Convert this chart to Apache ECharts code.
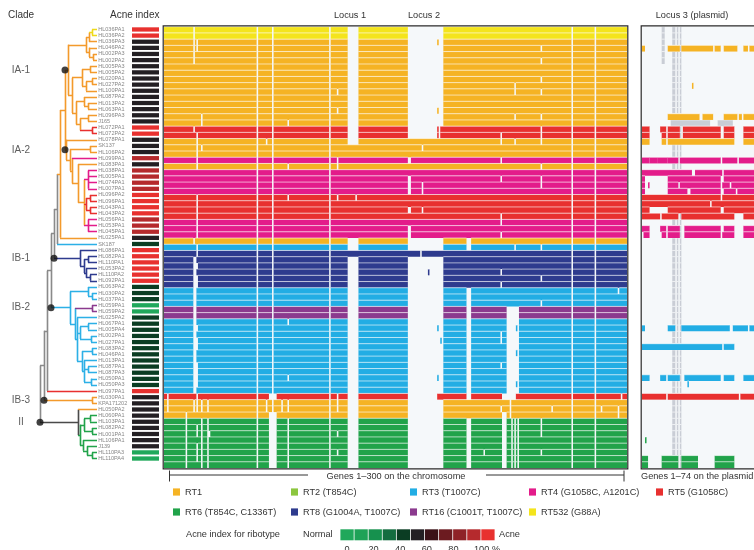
<!DOCTYPE html>
<html>
<head>
<meta charset="utf-8">
<title>Propionibacterium acnes strains: clades, acne index and gene content</title>
<script src="https://cdn.jsdelivr.net/npm/echarts@6.0.0/dist/echarts.min.js"></script>
<style>
  html, body { margin: 0; padding: 0; background: #ffffff; }
  #chart { width: 754px; height: 550px; }
</style>
</head>
<body>
<div id="chart"></div>
<script>
// ---------- strains, top to bottom ----------
const strains = [
  'HL036PA1','HL036PA2','HL036PA3','HL046PA2','HL002PA3','HL002PA2','HL005PA3','HL005PA2',
  'HL020PA1','HL027PA2','HL100PA1','HL087PA2','HL013PA2','HL063PA1','HL096PA3','J165',
  'HL072PA1','HL072PA2','HL078PA1','SK137','HL106PA2','HL099PA1','HL083PA1','HL038PA1',
  'HL005PA1','HL074PA1','HL007PA1','HL096PA2','HL096PA1','HL043PA1','HL043PA2','HL056PA1',
  'HL053PA1','HL045PA1','HL025PA1','SK187','HL086PA1','HL082PA1','HL110PA1','HL053PA2',
  'HL110PA2','HL092PA1','HL063PA2','HL030PA2','HL037PA1','HL059PA1','HL059PA2','HL025PA2',
  'HL067PA1','HL005PA4','HL002PA1','HL027PA1','HL083PA2','HL046PA1','HL013PA1','HL087PA1',
  'HL087PA3','HL050PA1','HL050PA3','HL097PA1','HL030PA1','KPA171202','HL050PA2','HL060PA1',
  'HL103PA1','HL082PA2','HL001PA1','HL106PA1','J139','HL110PA3','HL110PA4'
];

// ribotype of each strain (same order)
const ribotypeOfStrain = [
  'RT532','RT532','RT1','RT1','RT1','RT1','RT1','RT1',
  'RT1','RT1','RT1','RT1','RT1','RT1','RT1','RT1',
  'RT5','RT5','RT1','RT1','RT1','RT4','RT1','RT4',
  'RT4','RT4','RT4','RT5','RT5','RT5','RT5','RT4',
  'RT4','RT4','RT1','RT3','RT8','RT8','RT8','RT8',
  'RT8','RT8','RT3','RT3','RT3','RT16','RT16','RT3',
  'RT3','RT3','RT3','RT3','RT3','RT3','RT3','RT3',
  'RT3','RT3','RT3','RT5','RT1','RT1','RT1','RT6',
  'RT6','RT6','RT6','RT6','RT6','RT6','RT6'
];

// acne index (%) of each strain's ribotype
const acneIndex = [
  100,100,50,50,50,50,50,50,
  50,50,50,50,50,50,50,50,
  100,100,50,50,50,90,50,90,
  90,90,90,100,100,100,100,90,
  90,90,50,40,100,100,100,100,
  100,100,40,40,40,0,0,40,
  40,40,40,40,40,40,40,40,
  40,40,40,100,50,50,50,50,
  50,50,50,50,50,0,0
];

// ---------- ribotype legend ----------
const ribotypes = ['RT1','RT2','RT3','RT4','RT5','RT6','RT8','RT16','RT532'];
const ribotypeLabels = ['RT1','RT2 (T854C)','RT3 (T1007C)','RT4 (G1058C, A1201C)','RT5 (G1058C)',
  'RT6 (T854C, C1336T)','RT8 (G1004A, T1007C)','RT16 (C1001T, T1007C)','RT532 (G88A)'];
const ribotypeColors = ['#f5b324','#8cc63f','#22ade4','#e31c8a','#e8302f','#21a34a','#2e3b8e','#8b3a8e','#f4e41c'];
const treeBranchColors = ['#f39a2c','#8cc63f','#2cb0e6','#e31c8a','#e8302f','#21a34a','#2e3b8e','#8b3a8e','#eed91a'];

// ---------- acne index colour scale ----------
const acneScaleValues = [0,10,20,30,40,50,60,70,80,90,100];
const acneScaleColors = ['#20a85b','#1ea257','#16914e','#146d40','#0b3d23','#231f23',
  '#3b1218','#6c1b20','#8e2227','#b52a2d','#e8312f'];
const acneTickLabels = ['0','20','40','60','80','100 %'];

// ---------- gene content ----------
const CHROMOSOME_GENES = 300;
const PLASMID_GENES = 74;

// genes missing from the chromosome: [first strain, last strain, first gene, last gene]
const chromosomeGaps = [
  [1,71,61,61],[1,71,71,71],[1,71,108,108],[1,71,265,265],[1,71,280,280],
  // locus 1
  [1,19,120,126],[35,36,120,126],[38,71,120,126],
  // locus 2
  [1,2,159,181],[3,3,159,177],[3,3,179,181],[4,13,159,181],[14,14,159,177],[14,14,179,181],
  [15,16,159,181],[17,18,159,177],[17,18,179,179],[35,36,159,181],
  [38,39,159,181],[40,40,159,171],[40,40,173,181],[41,48,159,181],[49,49,159,177],[49,49,179,181],
  [50,50,159,181],[51,51,159,179],[51,51,181,181],[52,56,159,181],[57,57,159,177],[57,57,179,181],
  [58,59,159,181],[60,60,159,177],[61,71,159,181],
  [22,22,159,160],[25,27,159,160],[30,30,159,160],[33,34,159,160],
  [20,20,168,168],[26,27,168,168],[30,30,168,168],[37,37,167,167],
  // genes 197-199
  [35,36,197,199],[43,60,197,199],[64,71,197,199],
  // genes 220-230
  [46,48,223,230],[49,49,223,228],[49,49,230,230],[50,52,223,230],[53,53,223,228],[53,53,230,230],
  [54,57,223,230],[58,58,223,228],[58,58,230,230],[59,59,223,230],
  [60,60,220,228],[63,71,220,222],[64,71,226,226],[64,71,228,228],[64,71,230,230],
  [61,62,225,225],[63,63,225,225],
  // scattered single genes
  [1,6,20,20],[17,17,20,20],[35,35,20,20],[38,59,20,21],[61,62,20,20],
  [3,4,22,22],[18,23,22,22],[28,34,22,22],[36,37,22,22],[39,39,22,22],[41,42,22,22],
  [49,49,22,22],[51,52,22,22],[55,58,22,22],[60,62,22,22],[65,66,22,22],[68,70,22,22],
  [15,16,25,25],[20,20,25,25],[61,62,25,25],[64,71,25,25],
  [61,62,29,29],[64,65,29,29],[66,66,29,30],[67,71,29,29],
  [63,71,15,15],[60,62,3,3],
  [19,19,67,67],[61,62,67,67],
  [60,60,69,73],[63,71,69,73],
  [61,62,77,77],
  [16,16,81,81],[23,23,81,81],[28,28,81,81],[48,48,81,81],[57,57,81,81],[61,62,81,81],[64,71,81,81],
  [11,11,113,113],[14,14,113,113],[22,23,113,113],[28,28,113,113],[60,62,113,113],[66,66,113,113],[69,69,113,113],
  [28,28,125,125],
  [18,19,219,219],[22,22,219,219],[25,25,219,219],[31,32,219,219],[34,34,219,219],[40,40,219,219],
  [42,42,219,219],[50,51,219,219],[55,55,219,219],[62,62,219,219],
  [10,11,228,228],[15,15,228,228],[19,19,228,228],[36,36,228,228],
  [4,4,245,245],[6,6,245,245],[9,9,245,245],[11,11,245,245],[15,15,245,245],[17,19,245,245],
  [23,23,245,245],[25,26,245,245],[36,36,245,245],[41,41,245,245],[45,45,245,245],[64,66,245,245],[69,69,245,245],
  [69,69,208,208],[62,62,252,252],[62,62,284,284],[43,43,295,295],[62,63,295,295],[60,60,297,297]
];

// plasmid genes carried: [strain, first gene, last gene]
const plasmidGenesPresent = [
  [4,1,2],[4,18,25],[4,27,47],[4,49,52],[4,55,63],[4,68,70],[4,72,74],
  [10,34,34],
  [15,18,38],[15,41,47],[15,55,63],[15,65,66],[15,68,74],
  [17,1,5],[17,13,16],[17,18,25],[17,28,52],[17,55,61],[17,68,74],
  [18,1,5],[18,14,16],[18,18,25],[18,28,52],[18,55,61],[18,68,74],
  [19,1,5],[19,14,16],[19,18,61],[19,68,74],
  [22,1,5],[22,6,10],[22,11,17],[22,18,24],[22,26,52],[22,54,63],[22,65,74],
  [24,1,33],[24,36,53],[24,55,74],
  [25,1,2],[25,18,52],[25,55,74],
  [26,1,2],[26,5,5],[26,18,24],[26,26,52],[26,54,58],[26,60,74],
  [27,1,2],[27,18,30],[27,33,52],[27,55,62],[27,64,74],
  [28,1,52],[28,54,74],
  [29,1,45],[29,47,74],
  [30,1,5],[30,18,52],[30,55,74],
  [31,1,12],[31,14,24],[31,27,61],[31,68,74],
  [33,1,5],[33,13,16],[33,18,25],[33,29,52],[33,55,61],[33,68,74],
  [34,2,5],[34,14,16],[34,18,25],[34,29,52],[34,54,61],[34,68,74],
  [49,1,2],[49,18,22],[49,27,58],[49,61,70],[49,72,74],
  [52,1,53],[52,55,61],
  [57,1,5],[57,13,16],[57,18,25],[57,29,52],[57,55,61],[57,68,74],
  [58,31,31],
  [60,1,16],[60,18,64],[60,66,74],
  [67,3,3],
  [70,1,4],[70,14,24],[70,27,37],[70,49,61],
  [71,1,4],[71,14,24],[71,27,37],[71,49,61]
];

// plasmid genes shown in grey: [first strain, last strain, first gene, last gene]
const plasmidGreyGenes = [
  [1,71,21,22],[1,71,24,24],[1,71,26,26],[1,6,14,15],[16,16,20,45],[16,16,51,60]
];

// ---------- phylogeny (d = branch depth from the root, leaves = strain number) ----------
const N = (d, c, extra) => Object.assign({ d: d, c: c }, extra || {});
const LEAF_DEPTH = 57;
const phylogeny = N(0, [
  N(4, [
    N(7, [
      N(11, [
        N(14, [
          N(17, [
            N(20, [
              N(25, [
                N(28, [
                  N(46, [N(49, [N(52, [1, 2]), 3]), N(49, [4, N(53, [5, 6])])]),
                  N(32, [
                    N(42, [N(50, [7, 8]), N(46, [N(52, [9, 10]), 11])]),
                    N(36, [N(44, [12, N(48, [13, 14])]), N(40, [N(48, [15, 16]), N(52, [17, 18])])])
                  ])
                ], { clade: 'IA-1' }),
                N(26, [19, N(30, [N(50, [20, 21]), N(32, [22, N(38, [23, N(44, [
                  N(48, [24, 25, 26, 27]),
                  N(46, [N(50, [28, 29]), N(50, [30, 31])]),
                  N(48, [32, 33, 34])
                ])])])])], { clade: 'IA-2' })
              ]),
              35
            ], { color: '#f39a2c' }),
            36
          ]),
          N(40, [37, N(44, [N(48, [38, 39]), N(46, [40, N(50, [41, 42])])])], { clade: 'IB-1' })
        ]),
        N(30, [
          N(48, [43, N(52, [44, 45])]),
          N(35, [N(52, [46, 47]), N(37, [48,
            N(40, [N(48, [49, 50]), N(51, [51, 52])]),
            N(42, [N(52, [53, 54]), N(44, [55, N(48, [56, 57]), N(51, [58, 59])])])
          ])])
        ], { clade: 'IB-2', color: '#2cb0e6' })
      ]),
      60
    ]),
    N(52, [61, 62], { clade: 'IB-3' })
  ]),
  N(38, [63, N(40, [N(44, [N(50, [64, 65]), N(52, [66, 67])]), N(43, [68, N(47, [69, N(52, [70, 71])])])])],
    { clade: 'II', color: '#4a4a4a' })
], { color: '#8a8a8a' });

// ---------- derived series data ----------
const rtIdx = rt => ribotypes.indexOf(rt);
const rtColor = rt => ribotypeColors[rtIdx(rt)];

const chromosomeCells = [];
strains.forEach((name, i) => {
  const row = i + 1;
  const present = new Array(CHROMOSOME_GENES).fill(true);
  chromosomeGaps.forEach(([r0, r1, g0, g1]) => {
    if (row >= r0 && row <= r1) for (let g = g0; g <= g1; g++) present[g - 1] = false;
  });
  let g = 0;
  while (g < CHROMOSOME_GENES) {
    if (!present[g]) { g++; continue; }
    let e = g;
    while (e < CHROMOSOME_GENES && present[e]) e++;
    chromosomeCells.push({ value: [row, g, e], itemStyle: { color: rtColor(ribotypeOfStrain[i]) } });
    g = e;
  }
});

const plasmidCells = plasmidGenesPresent.map(([row, g0, g1]) => ({
  value: [row, g0 - 1, g1], itemStyle: { color: rtColor(ribotypeOfStrain[row - 1]) }
}));
const plasmidGreyCells = [];
plasmidGreyGenes.forEach(([r0, r1, g0, g1]) => {
  for (let r = r0; r <= r1; r++) plasmidGreyCells.push({ value: [r, g0 - 1, g1], itemStyle: { color: '#c9cdd5' } });
});

const acneCells = acneIndex.map((v, i) => ({
  value: [i + 1, v], itemStyle: { color: acneScaleColors[acneScaleValues.indexOf(v)] }
}));

// tree layout
function collectTypes(n) {
  if (typeof n === 'number') return new Set([ribotypeOfStrain[n - 1]]);
  n.types = new Set();
  n.c.forEach(ch => collectTypes(ch).forEach(t => n.types.add(t)));
  return n.types;
}
function placeY(n) {
  if (typeof n === 'number') return n;
  const ys = n.c.map(placeY);
  n.y = (ys[0] + ys[ys.length - 1]) / 2;
  return n.y;
}
const treeEdges = [], cladeDots = [], cladeLabels = [], leafPoints = [];
function drawNode(n, parentD, inherited) {
  if (typeof n === 'number') {
    const rt = ribotypeOfStrain[n - 1];
    treeEdges.push({ coords: [[parentD, n], [LEAF_DEPTH, n]], color: treeBranchColors[rtIdx(rt)] });
    leafPoints.push({ value: [LEAF_DEPTH, n], name: strains[n - 1] });
    return;
  }
  const color = n.types.size === 1 ? treeBranchColors[rtIdx([...n.types][0])] : (n.color || inherited);
  const yOf = ch => (typeof ch === 'number' ? ch : ch.y);
  if (parentD !== null) treeEdges.push({ coords: [[parentD, n.y], [n.d, n.y]], color: color });
  treeEdges.push({ coords: [[n.d, yOf(n.c[0])], [n.d, yOf(n.c[n.c.length - 1])]], color: color });
  if (n.clade) {
    cladeDots.push([parentD, n.y]);
    cladeLabels.push({ value: [-19, n.y], name: n.clade });
  }
  n.c.forEach(ch => drawNode(ch, n.d, color));
}
collectTypes(phylogeny);
placeY(phylogeny);
drawNode(phylogeny, null, phylogeny.color);

// ---------- layout ----------
const FONT = '"Liberation Sans", Arial, Helvetica, sans-serif';
const TREE_TOP = 26.4, TREE_H = 435.2;
const MAP_TOP = 26.7, MAP_H = 441.3;
const CHR_LEFT = 164, CHR_W = 463;
const PLA_LEFT = 642, PLA_W = CHR_W / CHROMOSOME_GENES * PLASMID_GENES;
const ROWS = strains.length;

function geneBlock(params, api) {
  const row = api.value(0);
  const a = api.coord([api.value(1), row - 0.5]);
  const b = api.coord([api.value(2), row + 0.5]);
  return {
    type: 'group',
    children: [
      { type: 'rect', shape: { x: a[0], y: a[1], width: b[0] - a[0], height: b[1] - a[1] },
        style: { fill: api.visual('color') } },
      { type: 'line', shape: { x1: a[0], y1: a[1], x2: b[0], y2: a[1] },
        style: { stroke: 'rgba(255,255,255,0.6)', lineWidth: 1 } }
    ]
  };
}
function acneBlock(params, api) {
  const row = api.value(0);
  const a = api.coord([0, row - 0.35]);
  const b = api.coord([1, row + 0.35]);
  return { type: 'rect', shape: { x: a[0], y: a[1], width: b[0] - a[0], height: b[1] - a[1] },
    style: { fill: api.visual('color') } };
}

function txt(text, x, y, size, align, vAlign, color) {
  return { type: 'text', x: x, y: y, silent: true, z: 20,
    style: { text: text, font: size + 'px ' + FONT, fill: color || '#333',
      align: align || 'left', textAlign: align || 'left',
      verticalAlign: vAlign || 'middle', textVerticalAlign: vAlign || 'middle' } };
}

const graphics = [];
// headers
graphics.push(txt('Clade', 8, 15, 10));
graphics.push(txt('Acne index', 110, 15, 10));
graphics.push(txt('Locus 1', 350, 15, 9.2, 'center'));
graphics.push(txt('Locus 2', 424, 15, 9.2, 'center'));
graphics.push(txt('Locus 3 (plasmid)', 692, 15, 9.2, 'center'));
// frames
graphics.push({ type: 'rect', z: 15, silent: true,
  shape: { x: CHR_LEFT - 0.8, y: MAP_TOP - 0.8, width: CHR_W + 1.6, height: MAP_H + 1.6 },
  style: { fill: 'none', stroke: '#2a2a2a', lineWidth: 1.2 } });
graphics.push({ type: 'rect', z: 15, silent: true,
  shape: { x: PLA_LEFT - 0.8, y: MAP_TOP - 0.8, width: PLA_W + 1.6, height: MAP_H + 1.6 },
  style: { fill: 'none', stroke: '#2a2a2a', lineWidth: 1.2 } });
// chromosome bracket
const lineStyle = { stroke: '#333', lineWidth: 1 };
[[169.5, 475, 308, 475], [486, 475, 624, 475], [169.5, 470.5, 169.5, 481.5], [624, 470.5, 624, 481.5]]
  .forEach(s => graphics.push({ type: 'line', silent: true, z: 20,
    shape: { x1: s[0], y1: s[1], x2: s[2], y2: s[3] }, style: lineStyle }));
graphics.push(txt('Genes 1\u2013300 on the chromosome', 396, 476, 9.2, 'center'));
graphics.push(txt('Genes 1\u201374 on the plasmid', 641, 476, 9.2));
// ribotype legend
const legendSlots = [[173, 492], [291, 492], [410, 492], [529, 492], [656, 492],
  [173, 512], [291, 512], [410, 512], [529, 512]];
ribotypes.forEach((rt, i) => {
  const [x, y] = legendSlots[i];
  graphics.push({ type: 'rect', silent: true, z: 20, shape: { x: x, y: y - 3.6, width: 7, height: 7.2 },
    style: { fill: ribotypeColors[i] } });
  graphics.push(txt(ribotypeLabels[i], x + 12, y, 9.2));
});
// acne index scale
graphics.push(txt('Acne index for ribotype', 186, 534.5, 9.2));
graphics.push(txt('Normal', 303, 534.5, 9.2));
graphics.push(txt('Acne', 499, 534.5, 9.2));
const boxW = 155 / acneScaleColors.length;
acneScaleColors.forEach((c, i) => {
  graphics.push({ type: 'rect', silent: true, z: 20,
    shape: { x: 340 + i * boxW + 0.4, y: 529.3, width: boxW - 0.8, height: 11 }, style: { fill: c } });
});
acneTickLabels.forEach((t, i) => {
  const x = 347 + i * 26.6;
  graphics.push(txt(t, i === acneTickLabels.length - 1 ? x - 6 : x, 545, 9.2,
    i === acneTickLabels.length - 1 ? 'left' : 'center', 'top'));
});

// ---------- chart ----------
const chart = echarts.init(document.getElementById('chart'), null, { renderer: 'canvas' });
const hiddenY = () => ({ type: 'value', show: false, inverse: true, min: 0.5, max: ROWS + 0.5 });
chart.setOption({
  animation: false,
  backgroundColor: '#ffffff',
  textStyle: { fontFamily: FONT },
  grid: [
    { left: 0, top: TREE_TOP, width: 97, height: TREE_H },
    { left: 132, top: TREE_TOP, width: 27, height: TREE_H },
    { left: CHR_LEFT, top: MAP_TOP, width: CHR_W, height: MAP_H, show: true, backgroundColor: '#f5f8fa', borderWidth: 0 },
    { left: PLA_LEFT, top: MAP_TOP, width: PLA_W, height: MAP_H, show: true, backgroundColor: '#f5f8fa', borderWidth: 0 }
  ],
  xAxis: [
    { gridIndex: 0, type: 'value', show: false, min: -40, max: LEAF_DEPTH },
    { gridIndex: 1, type: 'value', show: false, min: 0, max: 1 },
    { gridIndex: 2, type: 'value', show: false, min: 0, max: CHROMOSOME_GENES },
    { gridIndex: 3, type: 'value', show: false, min: 0, max: PLASMID_GENES }
  ],
  yAxis: [0, 1, 2, 3].map(i => Object.assign({ gridIndex: i }, hiddenY())),
  graphic: { elements: graphics },
  series: [
    { type: 'lines', coordinateSystem: 'cartesian2d', xAxisIndex: 0, yAxisIndex: 0, silent: true, z: 2,
      data: treeEdges.map(e => ({ coords: e.coords, lineStyle: { color: e.color, width: 2.6, opacity: 0.35 } })) },
    { type: 'lines', coordinateSystem: 'cartesian2d', xAxisIndex: 0, yAxisIndex: 0, silent: true, z: 3,
      data: treeEdges.map(e => ({ coords: e.coords, lineStyle: { color: e.color, width: 1.1, opacity: 1 } })) },
    { type: 'scatter', xAxisIndex: 0, yAxisIndex: 0, silent: true, z: 4, symbolSize: 7,
      itemStyle: { color: '#111111' }, data: cladeDots },
    { type: 'scatter', xAxisIndex: 0, yAxisIndex: 0, silent: true, z: 4, symbolSize: 0.1,
      itemStyle: { color: 'rgba(0,0,0,0)' }, data: cladeLabels,
      label: { show: true, position: 'inside', formatter: p => p.name, fontSize: 10, color: '#333', fontFamily: FONT } },
    { type: 'scatter', xAxisIndex: 0, yAxisIndex: 0, silent: true, z: 4, symbolSize: 0.1,
      itemStyle: { color: 'rgba(0,0,0,0)' }, data: leafPoints,
      label: { show: true, position: 'right', distance: 1.2, formatter: p => p.name, fontSize: 5.5, color: '#666', fontFamily: FONT } },
    { type: 'custom', xAxisIndex: 1, yAxisIndex: 1, silent: true, renderItem: acneBlock,
      encode: { x: 1, y: 0 }, data: acneCells },
    { type: 'custom', xAxisIndex: 2, yAxisIndex: 2, silent: true, renderItem: geneBlock,
      encode: { x: [1, 2], y: 0 }, data: chromosomeCells },
    { type: 'custom', xAxisIndex: 3, yAxisIndex: 3, silent: true, renderItem: geneBlock,
      encode: { x: [1, 2], y: 0 }, data: plasmidGreyCells },
    { type: 'custom', xAxisIndex: 3, yAxisIndex: 3, silent: true, renderItem: geneBlock,
      encode: { x: [1, 2], y: 0 }, data: plasmidCells }
  ]
});
</script>
</body>
</html>
